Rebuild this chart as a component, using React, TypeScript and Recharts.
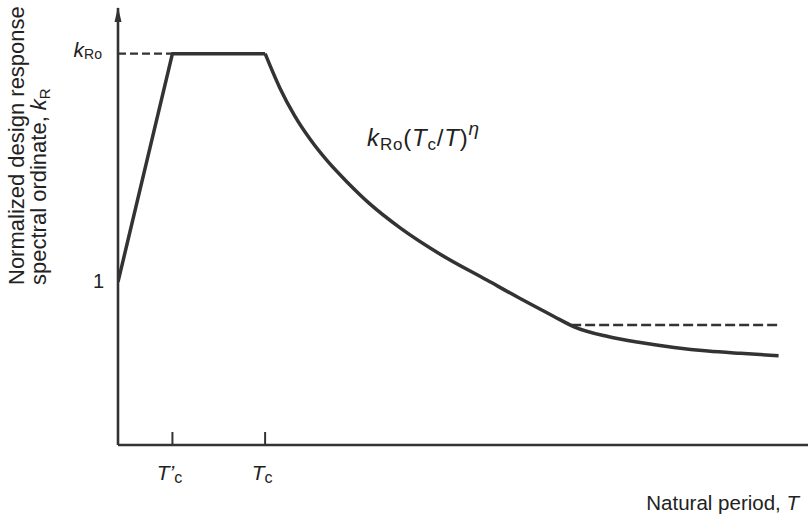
import { LineChart, Line, XAxis, YAxis, ReferenceDot } from 'recharts'

// natural period T (Tc = 1) and normalized ordinate kR (kRo = 2.4)
const periodRise = [0, 0.37, 1]
const ordinateRise = [1, 2.4, 2.4]

const periodDecay = [1, 1.1, 1.2, 1.31, 1.42, 1.56, 1.71, 1.92, 2.19, 2.51, 2.74, 2.96, 3.1, 3.33, 3.55, 3.78, 4.01, 4.23, 4.49]
const ordinateDecay = [2.4, 2.19, 2.02, 1.87, 1.745, 1.61, 1.48, 1.33, 1.17, 1.01, 0.895, 0.79, 0.725, 0.665, 0.628, 0.598, 0.576, 0.562, 0.548]

const plateauDashT = [0, 0.37]
const plateauDashK = [2.4, 2.4]
const floorDashT = [3.08, 4.49]
const floorDashK = [0.736, 0.736]

const xTicks = [0.37, 1]
const xTickMain = ['T\u2019', 'T']
const xTickSub = ['c', 'c']
const yTicks = [1, 2.4]

const INK = '#333'
const TEXT = '#222'
const FONT = '"Liberation Sans", Arial, sans-serif'

const zip = (ts: number[], ks: number[]) => ts.map((T, i) => ({ T, k: ks[i] }))

const rise = zip(periodRise, ordinateRise)
const decay = zip(periodDecay, ordinateDecay)
const plateauDash = zip(plateauDashT, plateauDashK)
const floorDash = zip(floorDashT, floorDashK)

function PeriodTick(props: any) {
  const { x, y, index } = props
  return (
    <g>
      <line x1={x} x2={x} y1={y - 13} y2={y} stroke={INK} strokeWidth={2} />
      <text x={x - 3} y={y + 35} textAnchor="middle" fontFamily={FONT} fontSize={21} fill={TEXT}>
        <tspan fontStyle="italic">{xTickMain[index]}</tspan>
        <tspan dy={3} fontSize={16}>{xTickSub[index]}</tspan>
      </text>
    </g>
  )
}

function OrdinateTick(props: any) {
  const { x, y, payload } = props
  if (payload.value === 1) {
    return (
      <text x={x - 14} y={y + 6} textAnchor="end" fontFamily={FONT} fontSize={20} fill={TEXT}>1</text>
    )
  }
  return (
    <text x={x - 16} y={y + 3} textAnchor="end" fontFamily={FONT} fontSize={21} fill={TEXT}>
      <tspan fontStyle="italic">k</tspan>
      <tspan dy={2} fontSize={14}>Ro</tspan>
    </text>
  )
}

const yLabel = () => (
  <g fontFamily={FONT} fontSize={22} fill={TEXT}>
    <text x={24} y={285} transform="rotate(-90 24 285)">Normalized design response</text>
    <text x={46} y={285} transform="rotate(-90 46 285)">
      spectral ordinate, <tspan fontStyle="italic">k</tspan>
      <tspan dy={4} fontSize={15}>R</tspan>
    </text>
  </g>
)

const xLabel = () => (
  <text x={799} y={510} textAnchor="end" fontFamily={FONT} fontSize={20.5} fill={TEXT}>
    Natural period, <tspan fontStyle="italic">T</tspan>
  </text>
)

const formulaLabel = (props: any) => {
  const { viewBox } = props
  return (
    <text x={viewBox.x} y={viewBox.y} fontFamily={FONT} fontSize={24} fill={TEXT} letterSpacing={0.8}>
      <tspan fontStyle="italic">k</tspan>
      <tspan dy={4} fontSize={17}>Ro</tspan>
      <tspan dy={-4}>(</tspan>
      <tspan fontStyle="italic">T</tspan>
      <tspan dy={4} fontSize={17}>c</tspan>
      <tspan dy={-4}>/</tspan>
      <tspan fontStyle="italic">T</tspan>
      <tspan>)</tspan>
      <tspan dy={-11} fontSize={19} fontStyle="italic">η</tspan>
    </text>
  )
}

const arrowHead = (props: any) => {
  const { cx, cy } = props
  return <polygon points={`${cx},${cy - 1} ${cx - 3.5},${cy + 14} ${cx + 3.5},${cy + 14}`} fill={INK} />
}

export default function App() {
  return (
    <div style={{ position: 'absolute', left: 0, top: 0, width: 808, height: 517, background: '#fff' }}>
      <LineChart width={808} height={517} margin={{ top: 8, right: 0, bottom: 0, left: 0 }}>
        <XAxis
          type="number"
          dataKey="T"
          domain={[0, 4.69]}
          ticks={xTicks}
          height={72}
          tickSize={0}
          tickMargin={0}
          tickLine={false}
          tick={<PeriodTick />}
          axisLine={{ stroke: INK, strokeWidth: 2.6 }}
          allowDataOverflow
          label={{ content: xLabel }}
        />
        <YAxis
          type="number"
          dataKey="k"
          domain={[0, 2.68]}
          ticks={yTicks}
          width={118}
          tickSize={0}
          tickMargin={0}
          tickLine={false}
          tick={<OrdinateTick />}
          axisLine={{ stroke: INK, strokeWidth: 2.6 }}
          allowDataOverflow
          label={{ content: yLabel }}
        />
        <Line data={plateauDash} dataKey="k" type="linear" stroke={INK} strokeWidth={2.4} strokeDasharray="8 4" dot={false} isAnimationActive={false} />
        <Line data={floorDash} dataKey="k" type="linear" stroke={INK} strokeWidth={2.4} strokeDasharray="10 4" dot={false} isAnimationActive={false} />
        <Line data={rise} dataKey="k" type="linear" stroke={INK} strokeWidth={3.5} strokeLinejoin="round" dot={false} isAnimationActive={false} />
        <Line data={decay} dataKey="k" type="monotone" stroke={INK} strokeWidth={3.5} dot={false} isAnimationActive={false} />
        <ReferenceDot x={1.693} y={1.834} r={0} fill="none" stroke="none" ifOverflow="visible" label={{ content: formulaLabel }} />
        <ReferenceDot x={0} y={2.68} r={0} ifOverflow="visible" shape={arrowHead} />
      </LineChart>
    </div>
  )
}
